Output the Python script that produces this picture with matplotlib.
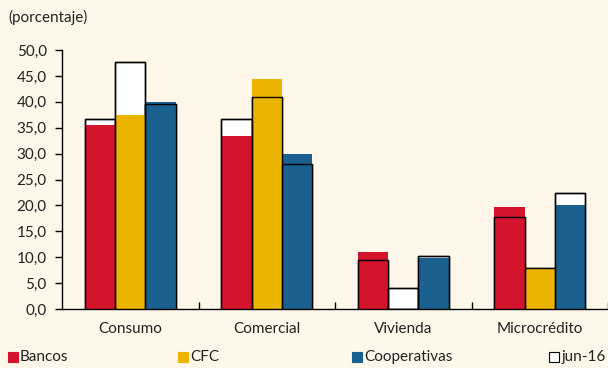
import matplotlib
matplotlib.use("Agg")
import matplotlib.pyplot as plt
import numpy as np
from matplotlib.patches import Rectangle

plt.rcParams['font.family'] = ['Lato', 'DejaVu Sans']

categorias = ['Consumo', 'Comercial', 'Vivienda', 'Microcrédito']
entidades = ['Bancos', 'CFC', 'Cooperativas']
# valores actuales
bancos = [35.5, 33.5, 11.0, 19.7]
cfc = [37.4, 44.4, 0.0, 7.9]
cooperativas = [39.9, 30.0, 9.9, 20.0]
# jun-16
bancos_jun16 = [36.6, 36.6, 9.5, 17.7]
cfc_jun16 = [47.7, 40.9, 4.0, 7.9]
cooperativas_jun16 = [39.5, 28.1, 10.2, 22.5]
yticks = [0, 5, 10, 15, 20, 25, 30, 35, 40, 45, 50]

colores = ['#D4132D', '#EBB400', '#1B6190']
fondo = '#FEF7EA'
texto = '#222222'

actual = [bancos, cfc, cooperativas]
previo = [bancos_jun16, cfc_jun16, cooperativas_jun16]

fig = plt.figure(figsize=(6.08, 3.68), dpi=100, facecolor=fondo)
ax = fig.add_axes([0.102, 0.160, 0.898, 0.704], facecolor=fondo)

x = np.arange(len(categorias))
w = 0.222
for i in range(3):
    pos = x + (i - 1) * w
    ax.bar(pos, previo[i], w, color='white', edgecolor='black', linewidth=1.0, zorder=2)
    ax.bar(pos, actual[i], w, color=colores[i], linewidth=0, zorder=3)
    ax.bar(pos, previo[i], w, fill=False, edgecolor='black', linewidth=1.0, zorder=4)

ax.set_xlim(-0.5, 3.5)
ax.set_ylim(0, 50)
ax.set_yticks(yticks)
ax.set_yticklabels([f'{v:.1f}'.replace('.', ',') for v in yticks], fontsize=11, color=texto)
ax.set_xticks(x)
ax.set_xticklabels(categorias, fontsize=11, color=texto)
ax.tick_params(axis='x', length=0, pad=9)
ax.set_xticks([0.5, 1.5, 2.5, 3.5], minor=True)
ax.tick_params(axis='x', which='minor', direction='in', length=5, width=1, color='black')
ax.tick_params(axis='y', direction='out', length=5, width=1, color='black', pad=6)
for s in ['top', 'right']:
    ax.spines[s].set_visible(False)
for s in ['left', 'bottom']:
    ax.spines[s].set_linewidth(1.0)
    ax.spines[s].set_color('black')

fig.text(0.013, 0.952, '(porcentaje)', fontsize=11, color=texto, va='center')

# leyenda
ley_x = [0.013, 0.293, 0.579, 0.903]
ley_nombres = entidades + ['jun-16']
ley_colores = colores + ['white']
for lx, nombre, c in zip(ley_x, ley_nombres, ley_colores):
    ec = 'black' if c == 'white' else c
    fig.patches.append(Rectangle((lx, 0.016), 0.016, 0.027, transform=fig.transFigure,
                                 facecolor=c, edgecolor=ec, linewidth=0.8))
    fig.text(lx + 0.02, 0.029, nombre, fontsize=11, color=texto, va='center')

fig.savefig('out.png', dpi=100, facecolor=fondo)
